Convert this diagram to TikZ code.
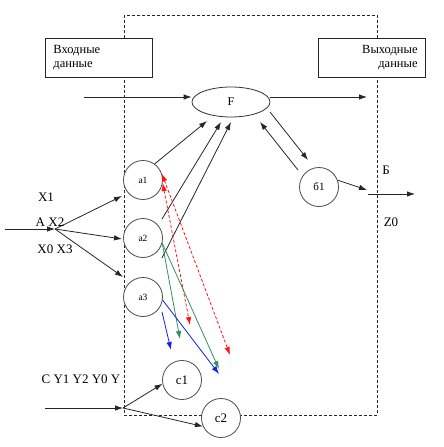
\documentclass[tikz,border=0pt]{standalone}
\usepackage{fontspec}
\setmainfont{Liberation Serif}
\usepackage{xcolor}
\usetikzlibrary{arrows.meta,shapes.geometric}
\definecolor{arrred}{RGB}{255,20,20}
\definecolor{arrgreen}{RGB}{50,145,95}
\definecolor{arrblue}{RGB}{20,30,235}
\tikzset{
  frame/.style  ={draw=black!85, line width=0.8pt, dash pattern=on 3pt off 2pt},
  databox/.style={draw=black!85, fill=white, line width=0.8pt, minimum width=107pt, minimum height=39pt, text width=91pt, inner xsep=8pt, font=\fontsize{12.5}{14}\selectfont},
  state/.style  ={circle, draw=black!70, fill=white, line width=0.8pt, minimum size=39pt, inner sep=0pt},
  ell/.style    ={ellipse, draw=black!80, fill=white, line width=0.8pt, minimum width=78pt, minimum height=30pt, inner sep=0pt, font=\fontsize{12}{14}\selectfont},
  lbl/.style    ={inner sep=0pt, font=\fontsize{13}{15}\selectfont},
  arr/.style    ={-{Latex[length=8pt,width=5.5pt]}, draw=black!85, line width=0.8pt},
  ln/.style     ={draw=black!85, line width=0.8pt},
  redarr/.style ={{Latex[length=8pt,width=5.5pt]}-{Latex[length=8pt,width=5.5pt]}, draw=arrred, line width=0.8pt, dash pattern=on 3pt off 2pt},
  grnarr/.style ={-{Latex[length=8pt,width=5.5pt]}, draw=arrgreen, line width=0.8pt},
  bluarr/.style ={-{Latex[length=8pt,width=5.5pt]}, draw=arrblue, line width=0.8pt},
}
\begin{document}
\begin{tikzpicture}[x=1pt,y=-1pt]
  \useasboundingbox (0,0) rectangle (444,447);
  \draw[frame] (124,15) rectangle (377,415);
  \node[databox, align=left, anchor=north west] (inbox) at (45,38) {Входные\\данные};
  \node[databox, align=right, anchor=north east] (outbox) at (426,38) {Выходные\\данные};
  \node[ell] (F) at (231,102) {F};
  \node[state, font=\fontsize{9.5}{11}\selectfont] (a1) at (143,180) {a1};
  \node[state, font=\fontsize{9.5}{11}\selectfont] (a2) at (143,238) {a2};
  \node[state, font=\fontsize{9.5}{11}\selectfont] (a3) at (143,297) {a3};
  \node[state, font=\fontsize{11}{13}\selectfont] (b1) at (319,187) {б1};
  \node[state, font=\fontsize{13}{15}\selectfont] (c1) at (182,380) {c1};
  \node[state, font=\fontsize{13}{15}\selectfont] (c2) at (221,418) {c2};
  % loose ends
  \coordinate (fin) at (84,97);   \coordinate (fout) at (367,97);
  \coordinate (fa) at (207,121);  \coordinate (fb) at (221,122);
  \coordinate (fc) at (231,122);  \coordinate (fd) at (260,122);
  \coordinate (fe) at (270,112);  \coordinate (bt) at (308,160);
  \coordinate (bs) at (298,170);  \coordinate (bend) at (367,190);
  \coordinate (zs) at (368,194);  \coordinate (ze) at (415,194);
  \coordinate (l1) at (162,219);  \coordinate (l2) at (162,258);
  \coordinate (ain) at (5,229);   \coordinate (asplit) at (55,229);
  \coordinate (a1in) at (122,196); \coordinate (a2in) at (122,239);
  \coordinate (a3in) at (123,277);
  \coordinate (cin) at (45,408);  \coordinate (csplit) at (123,408);
  % input side
  \draw[arr] (fin) -- (F.west |- fin);
  \draw[arr] (ain) -- (asplit);
  \draw[arr] (asplit) -- (a1in);
  \draw[arr] (asplit) -- (a2in);
  \draw[arr] (asplit) -- (a3in);
  \draw[arr] (cin) -- (csplit);
  \draw[arr] (csplit) -- (c1.191);
  \draw[arr] (csplit) -- (c2.205);
  % into F
  \draw[arr] (a1.54) -- (fa);
  \draw[arr] (l1) -- (fb);
  \draw[arr] (l2) -- (fc);
  \draw[arr] (bs) -- (fd);
  \draw[arr] (fe) -- (bt);
  \draw[arr] (F.east |- fout) -- (fout);
  \draw[arr] (b1.20) -- (bend);
  \draw[arr] (zs) -- (ze);
  % links to c
  \coordinate (r1) at (230,355);  \coordinate (r2) at (190,325);
  \coordinate (g1) at (180,339);  \coordinate (g2) at (219,369);
  \coordinate (u1) at (219,374);  \coordinate (us) at (162,312);
  \coordinate (u2) at (171,350);
  \draw[redarr] (a1.19) -- (r1);
  \draw[redarr] (a1.351) -- (r2);
  \draw[grnarr] (a2.345) -- (g1);
  \draw[grnarr] (a2.345) -- (g2);
  \draw[bluarr] (a3.351) -- (u1);
  \draw[bluarr] (us) -- (u2);
  % labels
  \node[lbl] (x1) at (46,197) {X1};
  \node[lbl] (x2) at (50,222) {A X2};
  \node[lbl] (x3) at (55,249) {X0 X3};
  \node[lbl] (ys) at (81,379) {C Y1 Y2 Y0 Y};
  \node[lbl] (bb) at (386,170) {Б};
  \node[lbl] (z0) at (391,222) {Z0};
\end{tikzpicture}
\end{document}
